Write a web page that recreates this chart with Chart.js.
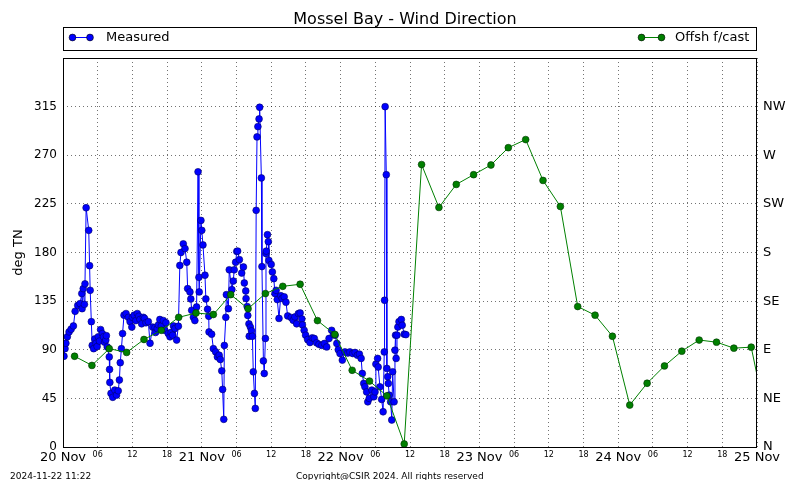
<!DOCTYPE html>
<html>
<head>
<meta charset="utf-8">
<title>Mossel Bay - Wind Direction</title>
<script src="https://cdn.jsdelivr.net/npm/chart.js@4.4.1/dist/chart.umd.min.js"></script>
<style>
  html, body { margin: 0; padding: 0; background: #fff; }
  #wrap { width: 800px; height: 480px; }
</style>
</head>
<body>
<div id="wrap"><canvas id="windChart" width="800" height="480"></canvas></div>
<script>
// Hours since 20 Nov 00:00 and direction in degrees (true north)
const measHours = [
  0.17, 0.35, 0.5, 0.75, 1.05, 1.4, 1.8, 2.1, 2.55, 2.95,
  3.25, 3.3, 3.5, 3.7, 3.8, 4.0, 4.45, 4.6, 4.7, 4.9,
  5.05, 5.3, 5.5, 5.7, 5.9, 6.1, 6.3, 6.5, 6.8, 7.0,
  7.2, 7.4, 7.5, 7.65, 8.0, 8.05,
  8.1, 8.3, 8.6, 8.95, 9.25, 9.55, 9.75, 9.9, 10.1, 10.3,
  10.55, 10.9, 11.3, 11.6, 11.9, 12.0, 12.3, 12.6, 12.85, 13.1,
  13.3, 13.6, 13.9, 14.1, 14.35, 14.75,
  15.05, 15.5, 15.9, 16.0, 16.3, 16.5, 16.75, 17.0, 17.35, 17.6,
  17.8, 18.2, 18.5, 18.7, 18.95, 19.1,
  19.35, 19.65, 19.95, 20.2, 20.4, 20.8, 21.1, 21.4, 21.55, 21.95,
  22.1, 22.25, 22.55, 22.8, 23.1, 23.35, 23.5, 23.55, 23.85, 24.0,
  24.2, 24.55, 24.7, 25.0, 25.2, 25.25, 25.7, 26.0, 26.4, 26.7,
  27.0, 27.2, 27.45, 27.6, 27.8, 27.9, 28.15, 28.25, 28.6, 28.75,
  29.2, 29.45, 29.6, 29.85, 30.05, 30.2, 30.5, 30.9, 31.2, 31.35,
  31.6, 31.65, 31.85, 31.95, 32.15, 32.2, 32.4, 32.6, 32.75, 32.9,
  33.1, 33.25, 33.4, 33.55, 33.7, 33.9, 34.0, 34.3, 34.4, 34.65,
  34.8, 35.0, 35.1, 35.15, 35.35, 35.5, 35.6, 36.0, 36.2, 36.45,
  36.65, 36.85, 37.05, 37.35, 37.65, 37.9, 38.25, 38.55, 38.85, 39.45,
  39.8, 40.1, 40.4, 40.7, 41.0, 41.3, 41.4, 41.7, 41.95, 42.3,
  42.7, 43.1, 43.45, 43.85, 44.25, 44.75, 45.2, 45.6, 46.0, 46.45,
  46.8, 47.05, 47.35, 47.6, 47.9, 48.3, 48.75, 49.25, 49.6, 50.1,
  50.5, 50.9, 51.25, 51.55, 51.75, 52.0, 52.2, 52.5, 52.7, 52.95,
  53.4, 53.75, 53.95, 54.1, 54.4, 54.5, 54.8, 55.1, 55.35, 55.55,
  55.6, 55.7, 55.9, 56.0, 56.15, 56.25, 56.4, 56.65, 56.85, 57.0,
  57.25, 57.4, 57.5, 57.6, 57.75, 57.9, 58.1, 58.5, 58.65, 59.0,
  59.3
];
const measDeg = [
  84, 91, 96, 102, 106.5, 109, 112, 125.6, 131, 132.7,
  142, 128, 146.6, 132, 151, 221.4, 200.5, 167.8, 145, 116,
  94, 91, 100, 96, 93, 102, 98, 108.7, 105, 102,
  97, 99, 103, 92.6, 83.4, 71.8,
  59.8, 49.6, 46, 52.7, 48, 52, 62, 78, 91, 105,
  122, 123.5, 120, 116, 111, 120, 122, 117, 123.5, 121,
  118, 114, 120, 119, 115, 116,
  96, 111, 110.6, 106, 109.6, 113, 118, 112, 117, 108,
  115, 105, 102, 106, 103.5, 112,
  109.6, 99, 111.8, 168, 180, 188, 183.6, 171, 146.6, 143.5,
  137, 126.5, 120, 117, 129.6, 254.7, 157, 143.5, 209.7, 200.5,
  187, 159, 137, 127.5, 121, 106.5, 104.4, 91, 88, 83.4,
  85, 81, 70.5, 53.3, 25.6, 94, 120, 141, 128, 164,
  145.7, 153.6, 164, 171, 181, 181.3, 173.4, 161, 166.6, 151.8,
  144.4, 137.4, 130, 121.7, 114, 102.5, 111, 107.5, 102.5, 69.6,
  49.6, 35.7, 219, 287, 296.5, 303.6, 314.4, 249, 167, 79.7,
  68, 100.4, 179, 181.3, 196.5, 190, 172.7, 169, 162, 155.8,
  142, 145, 136.4, 119, 140, 137.4, 139, 134, 121.3, 119.8,
  117.3, 120.4, 114, 123.5, 124, 118.5, 113, 108, 103.5, 99.5,
  96.7, 101, 100.4, 96.4, 95, 94, 95.8, 92.6, 100.4, 108,
  104, 103.5, 95.8, 90, 86.5, 80.4, 88, 87, 88, 86.5,
  87.5, 85, 86, 82, 68, 58.8, 55.7, 51, 41.8, 45,
  52.7, 46.5, 51, 76.7, 82, 74, 55.7, 44, 32.6, 88,
  135.8, 315, 252, 72.7, 65, 58.8, 48, 41.8, 25, 69.6,
  41.8, 89.6, 103.5, 82, 103.5, 111, 116, 118, 112.7, 104.4,
  104
];

// Offshore forecast, every 3 hours
const fcHours = [
  2, 5, 8, 11, 14, 17, 20, 23, 26, 29,
  32, 35, 38, 41, 44, 47, 50, 53, 56, 59,
  62, 65, 68, 71, 74, 77, 80, 83, 86, 89,
  92, 95, 98, 101, 104, 107, 110, 113, 116, 119,
  122
];
const fcDeg = [
  84, 75.5, 91, 87.5, 99.5, 108, 120, 124, 122.6, 141,
  128, 142, 148.7, 150.6, 117, 104.2, 71, 61, 47.4, 2.8,
  261.4, 221.7, 243, 252, 261, 277, 284.5, 246.7, 222.6, 130,
  122, 102.5, 38.8, 59, 75, 88.7, 99, 97, 91.5, 92.4,
  15
];

const dayLabels = ['20 Nov', '21 Nov', '22 Nov', '23 Nov', '24 Nov', '25 Nov'];
const hourLabels = ['06', '12', '18'];
const dirLabels = ['N', 'NE', 'E', 'SE', 'S', 'SW', 'W', 'NW'];

const FONT = '"DejaVu Sans", "Liberation Sans", sans-serif';
const GRID = 'rgba(0,0,0,0.55)';
const BLUE = '#0000ff';
const GREEN = '#008000';

// Title, legend box, plot frame and footer
const decorPlugin = {
  id: 'decor',
  afterDraw(chart) {
    const { ctx, chartArea: a } = chart;
    ctx.save();

    // frame round the plot area
    ctx.strokeStyle = '#000';
    ctx.lineWidth = 1;
    ctx.strokeRect(a.left + 0.5, a.top + 0.5, a.right - a.left - 1, a.bottom - a.top);

    // title
    ctx.fillStyle = '#000';
    ctx.font = `16px ${FONT}`;
    ctx.textAlign = 'center';
    ctx.textBaseline = 'alphabetic';
    ctx.fillText('Mossel Bay - Wind Direction', 405, 24);

    // legend box
    ctx.strokeRect(a.left + 0.5, 27.5, a.right - a.left - 1, 23);
    const marker = (x1, x2, y, color) => {
      ctx.strokeStyle = color;
      ctx.lineWidth = 1;
      ctx.beginPath();
      ctx.moveTo(x1, y);
      ctx.lineTo(x2, y);
      ctx.stroke();
      [x1, x2].forEach(x => {
        ctx.beginPath();
        ctx.arc(x, y, 3.4, 0, Math.PI * 2);
        ctx.fillStyle = color;
        ctx.fill();
        ctx.strokeStyle = '#000';
        ctx.lineWidth = 0.6;
        ctx.stroke();
      });
    };
    marker(72.5, 90, 37.5, BLUE);
    marker(641.5, 661.5, 37.5, GREEN);
    ctx.fillStyle = '#000';
    ctx.font = `13px ${FONT}`;
    ctx.textAlign = 'left';
    ctx.textBaseline = 'middle';
    ctx.fillText('Measured', 106, 38);
    ctx.fillText('Offsh f/cast', 675, 38);

    // footer
    ctx.font = `9px ${FONT}`;
    ctx.textBaseline = 'alphabetic';
    ctx.fillText('2024-11-22 11:22', 10, 479);
    ctx.fillText('Copyright@CSIR 2024. All rights reserved', 296, 479);
    ctx.restore();
  }
};

const ctx = document.getElementById('windChart').getContext('2d');

new Chart(ctx, {
  type: 'scatter',
  data: {
    datasets: [
      {
        label: 'Measured',
        data: measHours.map((h, i) => ({ x: h, y: measDeg[i] })),
        showLine: true,
        borderColor: BLUE,
        borderWidth: 1,
        backgroundColor: BLUE,
        pointBackgroundColor: BLUE,
        pointBorderColor: '#000066',
        pointBorderWidth: 0.6,
        pointRadius: 3.4,
        tension: 0,
        order: 2,
      },
      {
        label: 'Offsh f/cast',
        data: fcHours.map((h, i) => ({ x: h, y: fcDeg[i] })),
        showLine: true,
        borderColor: GREEN,
        borderWidth: 1,
        backgroundColor: GREEN,
        pointBackgroundColor: GREEN,
        pointBorderColor: '#003300',
        pointBorderWidth: 0.6,
        pointRadius: 3.4,
        tension: 0,
        order: 1,
      }
    ]
  },
  options: {
    responsive: false,
    animation: false,
    events: [],
    layout: { padding: { top: 58, left: 0, right: 0, bottom: 0 } },
    plugins: {
      legend: { display: false },
      title: { display: false },
      tooltip: { enabled: false },
    },
    scales: {
      x: {
        type: 'linear',
        min: 0,
        max: 120,
        grid: { color: GRID, drawTicks: false },
        border: { display: false, dash: [1, 3] },
        ticks: {
          stepSize: 6,
          autoSkip: false,
          maxRotation: 0,
          padding: 3,
          color: '#000',
          callback: v => v % 24 === 0 ? dayLabels[v / 24] : hourLabels[(v % 24) / 6 - 1],
          font: c => ({ family: FONT, size: c.tick && c.tick.value % 24 === 0 ? 13 : 8 }),
        },
        afterFit: s => { s.height = 33; }
      },
      y: {
        position: 'left',
        min: 0,
        max: 360,
        grid: { color: GRID, drawTicks: false },
        border: { display: false, dash: [1, 3] },
        ticks: {
          stepSize: 45,
          padding: 6,
          color: '#000',
          font: { family: FONT, size: 12 },
          callback: v => v >= 360 ? null : String(v),
        },
        title: {
          display: true,
          text: 'deg TN',
          color: '#000',
          font: { family: FONT, size: 13 },
          padding: { top: 11, bottom: 0 },
        },
        afterFit: s => { s.width = 63; }
      },
      y2: {
        position: 'right',
        min: 0,
        max: 360,
        grid: { display: false, drawTicks: false },
        border: { display: false },
        ticks: {
          stepSize: 45,
          padding: 6,
          color: '#000',
          font: { family: FONT, size: 13 },
          callback: v => v >= 360 ? null : dirLabels[v / 45],
        },
        afterFit: s => { s.width = 43; }
      }
    }
  },
  plugins: [decorPlugin]
});
</script>
</body>
</html>
